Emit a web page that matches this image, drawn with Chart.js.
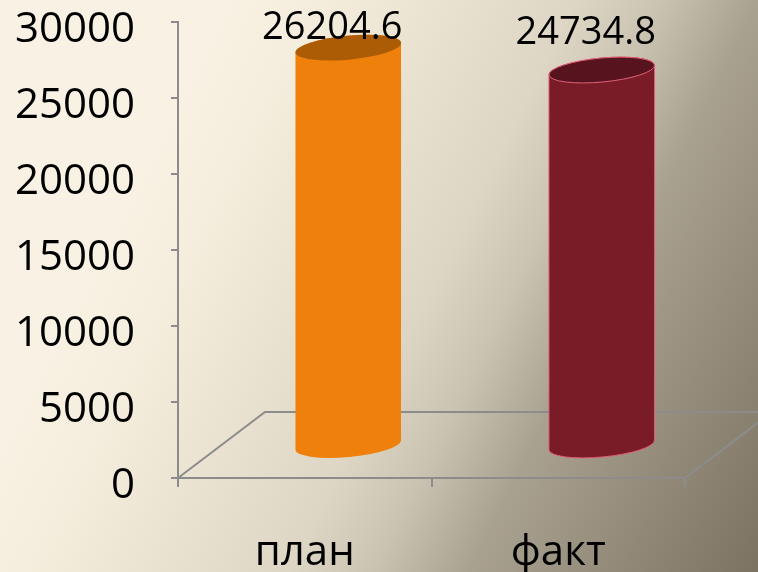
<!DOCTYPE html>
<html>
<head>
<meta charset="utf-8">
<script src="https://cdn.jsdelivr.net/npm/chart.js@4/dist/chart.umd.min.js"></script>
<style>
  html, body { margin: 0; padding: 0; }
  #wrap { width: 758px; height: 572px; }
</style>
</head>
<body>
<div id="wrap"><canvas id="chart" width="758" height="572"></canvas></div>
<script>
var categories = ['план', 'факт'];
var values = [26204.6, 24734.8];
var valueLabels = ['26204.6', '24734.8'];
var yTicks = [0, 5000, 10000, 15000, 20000, 25000, 30000];

var bodyColors = ['#f0800c', '#7a1c28'];
var topColors = ['#ad5c06', '#58141e'];
var edgeColors = [null, '#df5f78'];

var FONT = '"Open Sans", "Liberation Sans", sans-serif';
var DEPTH_X = 87, DEPTH_Y = 66; // floor depth of the 3d look
var TILT = -0.093;

var bgPlugin = {
    id: 'bg',
    beforeDraw: function (chart) {
        var ctx = chart.ctx;
        var g = ctx.createLinearGradient(200, 50, 851, 379);
        g.addColorStop(0, '#f9f2e4');
        g.addColorStop(0.15, '#f3ebda');
        g.addColorStop(0.43, '#ded6c4');
        g.addColorStop(0.53, '#ccc4b2');
        g.addColorStop(0.65, '#aaa291');
        g.addColorStop(1, '#7c7363');
        ctx.save();
        ctx.fillStyle = g;
        ctx.fillRect(0, 0, chart.width, chart.height);
        ctx.restore();
    }
};

var cylinderPlugin = {
    id: 'cylinders',
    beforeDatasetsDraw: function (chart) {
        // floor of the 3d plot
        var a = chart.chartArea, ctx = chart.ctx;
        ctx.save();
        ctx.strokeStyle = '#8c8c8c';
        ctx.lineWidth = 2;
        ctx.beginPath();
        ctx.moveTo(a.left, a.bottom);
        ctx.lineTo(a.left + DEPTH_X, a.bottom - DEPTH_Y);
        ctx.lineTo(a.right + DEPTH_X, a.bottom - DEPTH_Y);
        ctx.moveTo(a.right, a.bottom);
        ctx.lineTo(a.right + DEPTH_X, a.bottom - DEPTH_Y);
        ctx.stroke();
        ctx.restore();
    },
    afterDatasetsDraw: function (chart) {
        var ctx = chart.ctx;
        var meta = chart.getDatasetMeta(0);
        var dx = DEPTH_X / 2, dy = DEPTH_Y / 2 - 1;
        meta.data.forEach(function (bar, i) {
            var cx = bar.x + dx;
            var rx = bar.width / 2, ry = 12;
            var topY = bar.y - dy, baseY = bar.base - dy;
            ctx.save();
            ctx.beginPath();
            ctx.ellipse(cx, baseY, rx, ry, TILT, 0, Math.PI);
            ctx.ellipse(cx, topY, rx, ry, TILT, Math.PI, Math.PI * 2);
            ctx.closePath();
            ctx.fillStyle = bodyColors[i];
            ctx.fill();
            if (edgeColors[i]) {
                ctx.strokeStyle = edgeColors[i];
                ctx.lineWidth = 1;
                ctx.stroke();
            }
            ctx.beginPath();
            ctx.ellipse(cx, topY, rx, ry, TILT, 0, Math.PI * 2);
            ctx.fillStyle = topColors[i];
            ctx.fill();
            if (edgeColors[i]) ctx.stroke();

            // value label
            ctx.fillStyle = '#000';
            ctx.font = '38px ' + FONT;
            ctx.textAlign = 'center';
            ctx.textBaseline = 'alphabetic';
            ctx.fillText(valueLabels[i], cx - 16, Math.max(topY - 26, 39));
            ctx.restore();
        });
    }
};

var ctx = document.getElementById('chart').getContext('2d');
var chart = new Chart(ctx, {
    type: 'bar',
    data: {
        labels: categories,
        datasets: [{
            data: values,
            backgroundColor: 'rgba(0,0,0,0)',
            barThickness: 106
        }]
    },
    options: {
        responsive: false,
        animation: false,
        layout: { padding: { top: 22, right: 73, left: 0, bottom: 0 } },
        plugins: {
            legend: { display: false },
            tooltip: { enabled: false }
        },
        scales: {
            x: {
                afterFit: function (s) {
                    s.height = 94;
                    s.paddingLeft = 0;
                    s.paddingRight = 0;
                },
                grid: { drawOnChartArea: false, tickLength: 9, color: '#8c8c8c', lineWidth: 2 },
                border: { color: '#8c8c8c', width: 2 },
                ticks: { color: '#000', padding: 41, font: { family: FONT, size: 42 } }
            },
            y: {
                min: 0,
                max: 30000,
                afterFit: function (s) {
                    s.width = 178;
                    s.paddingTop = 0;
                    s.paddingBottom = 0;
                },
                afterBuildTicks: function (s) {
                    s.ticks = yTicks.map(function (v) { return { value: v }; });
                },
                grid: { drawOnChartArea: false, tickLength: 7, color: '#8c8c8c', lineWidth: 2 },
                border: { color: '#8c8c8c', width: 2 },
                ticks: {
                    color: '#000', padding: 36, labelOffset: 8,
                    font: { family: FONT, size: 42 },
                    callback: function (v) { return String(v); }
                }
            }
        }
    },
    plugins: [bgPlugin, cylinderPlugin]
});
</script>
</body>
</html>
